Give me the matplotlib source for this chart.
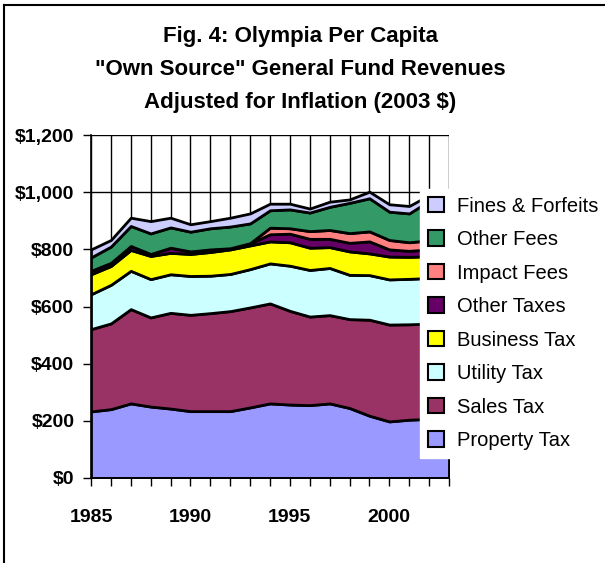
import numpy as np
import matplotlib.pyplot as plt
from matplotlib.patches import Patch
from matplotlib.lines import Line2D

plt.rcParams['font.family'] = ['Liberation Sans', 'DejaVu Sans']

years = list(range(1985, 2004))

# per capita revenue by source, 2003 dollars
property_tax = [233, 241, 261, 250, 243, 234, 234, 234, 247, 261, 257, 255, 261, 245, 218, 198, 204, 207, 200]
sales_tax = [288, 300, 330, 312, 335, 337, 343, 350, 350, 350, 328, 310, 309, 311, 336, 339, 334, 333, 345]
utility_tax = [122, 135, 134, 134, 135, 136, 131, 130, 134, 140, 158, 163, 165, 155, 156, 158, 159, 160, 155]
business_tax = [70, 66, 73, 81, 75, 77, 83, 86, 83, 77, 82, 78, 73, 82, 76, 80, 77, 76, 75]
other_taxes = [12, 11, 14, 7, 18, 9, 9, 4, 7, 25, 30, 31, 29, 30, 42, 25, 21, 24, 25]
impact_fees = [0, 0, 0, 0, 0, 0, 0, 0, 1, 23, 19, 27, 31, 34, 35, 33, 30, 32, 30]
other_fees = [47, 57, 70, 72, 71, 69, 74, 76, 69, 61, 66, 65, 81, 106, 116, 99, 101, 138, 135]
fines = [28, 23, 29, 43, 34, 26, 25, 31, 35, 23, 20, 14, 18, 12, 23, 26, 26, 20, 20]

labels = ["Property Tax", "Sales Tax", "Utility Tax", "Business Tax",
          "Other Taxes", "Impact Fees", "Other Fees", "Fines & Forfeits"]
colors = ["#9999FF", "#993366", "#CCFFFF", "#FFFF00",
          "#660066", "#FF8080", "#339966", "#CCCCFF"]

fig = plt.figure(figsize=(6.05, 5.63), dpi=100)
ax = fig.add_axes([0.1504, 0.151, 0.5917, 0.609])

# grid behind the areas
for y in range(0, 1201, 200):
    ax.axhline(y, color="black", lw=1, zorder=0)
for yr in years:
    ax.axvline(yr, color="black", lw=1, zorder=0)

ax.stackplot(years, property_tax, sales_tax, utility_tax, business_tax,
             other_taxes, impact_fees, other_fees, fines,
             colors=colors, edgecolor="black", linewidth=2, zorder=2)

ax.set_xlim(1985, 2003)
ax.set_ylim(0, 1200)
ax.set_xticks(years)
ax.set_xticklabels([str(y) if y % 5 == 0 else "" for y in years])
ax.set_yticks(range(0, 1201, 200))
ax.set_yticklabels(["$0", "$200", "$400", "$600", "$800", "$1,000", "$1,200"])
ax.tick_params(axis="both", direction="out", length=6, width=1, color="black",
               labelsize=14)
ax.tick_params(axis="x", pad=16)
ax.tick_params(axis="y", pad=6)
for lab in ax.get_xticklabels() + ax.get_yticklabels():
    lab.set_fontweight("bold")
for side in ["top", "right"]:
    ax.spines[side].set_visible(False)
ax.spines["left"].set_linewidth(1.2)
ax.spines["bottom"].set_linewidth(1.2)

fig.text(0.496, 0.935, "Fig. 4: Olympia Per Capita", ha="center", va="center",
         fontsize=16, fontweight="bold")
fig.text(0.496, 0.876, "\"Own Source\" General Fund Revenues", ha="center", va="center",
         fontsize=16, fontweight="bold")
fig.text(0.496, 0.818, "Adjusted for Inflation (2003 $)", ha="center", va="center",
         fontsize=16, fontweight="bold")

handles = [Patch(facecolor=c, edgecolor="black", linewidth=1.5) for c in colors]
leg = fig.legend(handles[::-1], labels[::-1], loc="upper left",
                 bbox_to_anchor=(0.678, 0.683), frameon=True, fontsize=14.5,
                 handlelength=0.8, handleheight=0.8, handletextpad=0.6,
                 labelspacing=0.72, borderpad=0.4, fancybox=False, framealpha=1)
leg.get_frame().set_edgecolor("white")
leg.get_frame().set_facecolor("white")
leg.set_zorder(5)

# outer frame (top and left edges)
fig.add_artist(Line2D([0.007, 0.007], [0.0, 0.991], color="black", lw=1.5,
                      transform=fig.transFigure))
fig.add_artist(Line2D([0.007, 1.0], [0.991, 0.991], color="black", lw=1.5,
                      transform=fig.transFigure))

fig.savefig("out.png", dpi=100)
